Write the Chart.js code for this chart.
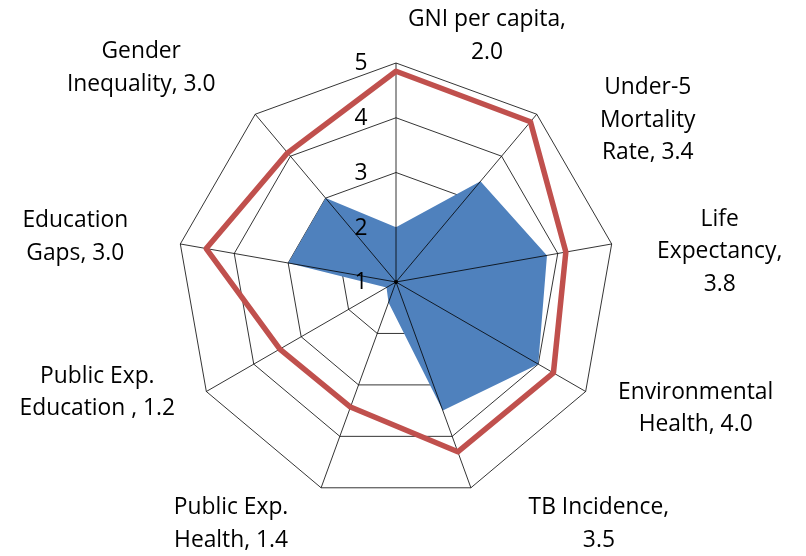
<!DOCTYPE html>
<html lang="en">
<head>
    <meta charset="UTF-8">
    <meta name="viewport" content="width=device-width, initial-scale=1.0">
    <title>Health radar</title>
    <style>
        html, body { margin: 0; padding: 0; background: #fff; }
        #wrap { width: 806px; height: 556px; }
    </style>
</head>
<body>
    <div id="wrap">
        <canvas id="myChart"></canvas>
    </div>

    <script src="https://cdn.jsdelivr.net/npm/chart.js@4"></script>

    <script>
    // axes, clockwise from the top
    const categories = ['GNI per capita', 'Under-5\nMortality\nRate', 'Life\nExpectancy', 'Environmental\nHealth',
        'TB Incidence', 'Public Exp.\nHealth', 'Public Exp.\nEducation ', 'Education\nGaps', 'Gender\nInequality'];
    // what goes between the name and its value in the label
    const labelSep = ['\n', ' ', '\n', ' ', '\n', ' ', ' ', ' ', ' '];

    const countryValues = [2.0, 3.4, 3.8, 4.0, 3.5, 1.4, 1.2, 3.0, 3.0];
    const benchmarkValues = [4.85, 4.82, 4.15, 4.32, 4.3, 3.43, 3.45, 4.52, 4.08];
    const tickValues = [1, 2, 3, 4, 5];

    const FONT = '22.8px "Open Sans"';
    // where each label sits, relative to the end of its axis
    const labelNudge = [[91, -27], [111, 6], [108, 8], [110, 17], [128, 36],
        [-90, 36], [-109, 1], [-105, -7], [-114, -46]];

    const radarExtras = {
        id: 'radarExtras',
        afterDatasetDraw(chart, args) {
            // axis spokes go over the blue area but under the red line
            if (args.index !== 0) return;
            const r = chart.scales.r;
            const ctx = chart.ctx;
            ctx.save();
            ctx.strokeStyle = '#000';
            ctx.lineWidth = 0.8;
            for (let i = 0; i < categories.length; i++) {
                const p = r.getPointPosition(i, r.drawingArea);
                ctx.beginPath();
                ctx.moveTo(r.xCenter, r.yCenter);
                ctx.lineTo(p.x, p.y);
                ctx.stroke();
            }
            ctx.beginPath();
            ctx.arc(r.xCenter, r.yCenter, 2, 0, Math.PI * 2);
            ctx.fillStyle = '#000';
            ctx.fill();
            ctx.restore();
        },
        afterDraw(chart) {
            const r = chart.scales.r;
            const ctx = chart.ctx;
            ctx.save();
            ctx.font = FONT;
            ctx.fillStyle = '#000';
            ctx.textAlign = 'center';
            ctx.textBaseline = 'middle';

            // value ticks, left of the vertical axis
            tickValues.forEach(v => {
                const d = r.getDistanceFromCenterForValue(v);
                ctx.fillText(String(v), r.xCenter - 35, r.yCenter - d + 1);
            });

            // category labels
            const lh = 32.5;
            categories.forEach((c, i) => {
                const text = c + ',' + labelSep[i] + countryValues[i].toFixed(1);
                const lines = text.split('\n');
                const p = r.getPointPosition(i, r.drawingArea);
                const cx = p.x + labelNudge[i][0];
                const cy = p.y + labelNudge[i][1];
                const y0 = cy - (lines.length - 1) * lh / 2;
                lines.forEach((ln, k) => ctx.fillText(ln, cx, y0 + k * lh));
            });
            ctx.restore();
        }
    };

    const ctx = document.getElementById('myChart');

    new Chart(ctx, {
        type: 'radar',
        data: {
            labels: categories,
            datasets: [{
                label: 'Country',
                data: countryValues,
                fill: true,
                backgroundColor: '#4F81BD',
                borderWidth: 0,
                pointRadius: 0,
                order: 2
            }, {
                label: 'Benchmark',
                data: benchmarkValues,
                fill: false,
                borderColor: '#C0504D',
                borderWidth: 5.5,
                borderJoinStyle: 'round',
                pointRadius: 0,
                order: 1
            }]
        },
        options: {
            responsive: true,
            maintainAspectRatio: false,
            animation: false,
            layout: { padding: { top: 63, bottom: 55, left: 0, right: 14 } },
            plugins: {
                legend: { display: false },
                tooltip: { enabled: false }
            },
            elements: { line: { tension: 0 } },
            scales: {
                r: {
                    min: 1,
                    max: 5,
                    ticks: { stepSize: 1, display: false },
                    pointLabels: { display: false },
                    grid: { color: '#000', lineWidth: 0.8 },
                    angleLines: { display: false }
                }
            }
        },
        plugins: [radarExtras]
    });
    </script>
</body>
</html>
